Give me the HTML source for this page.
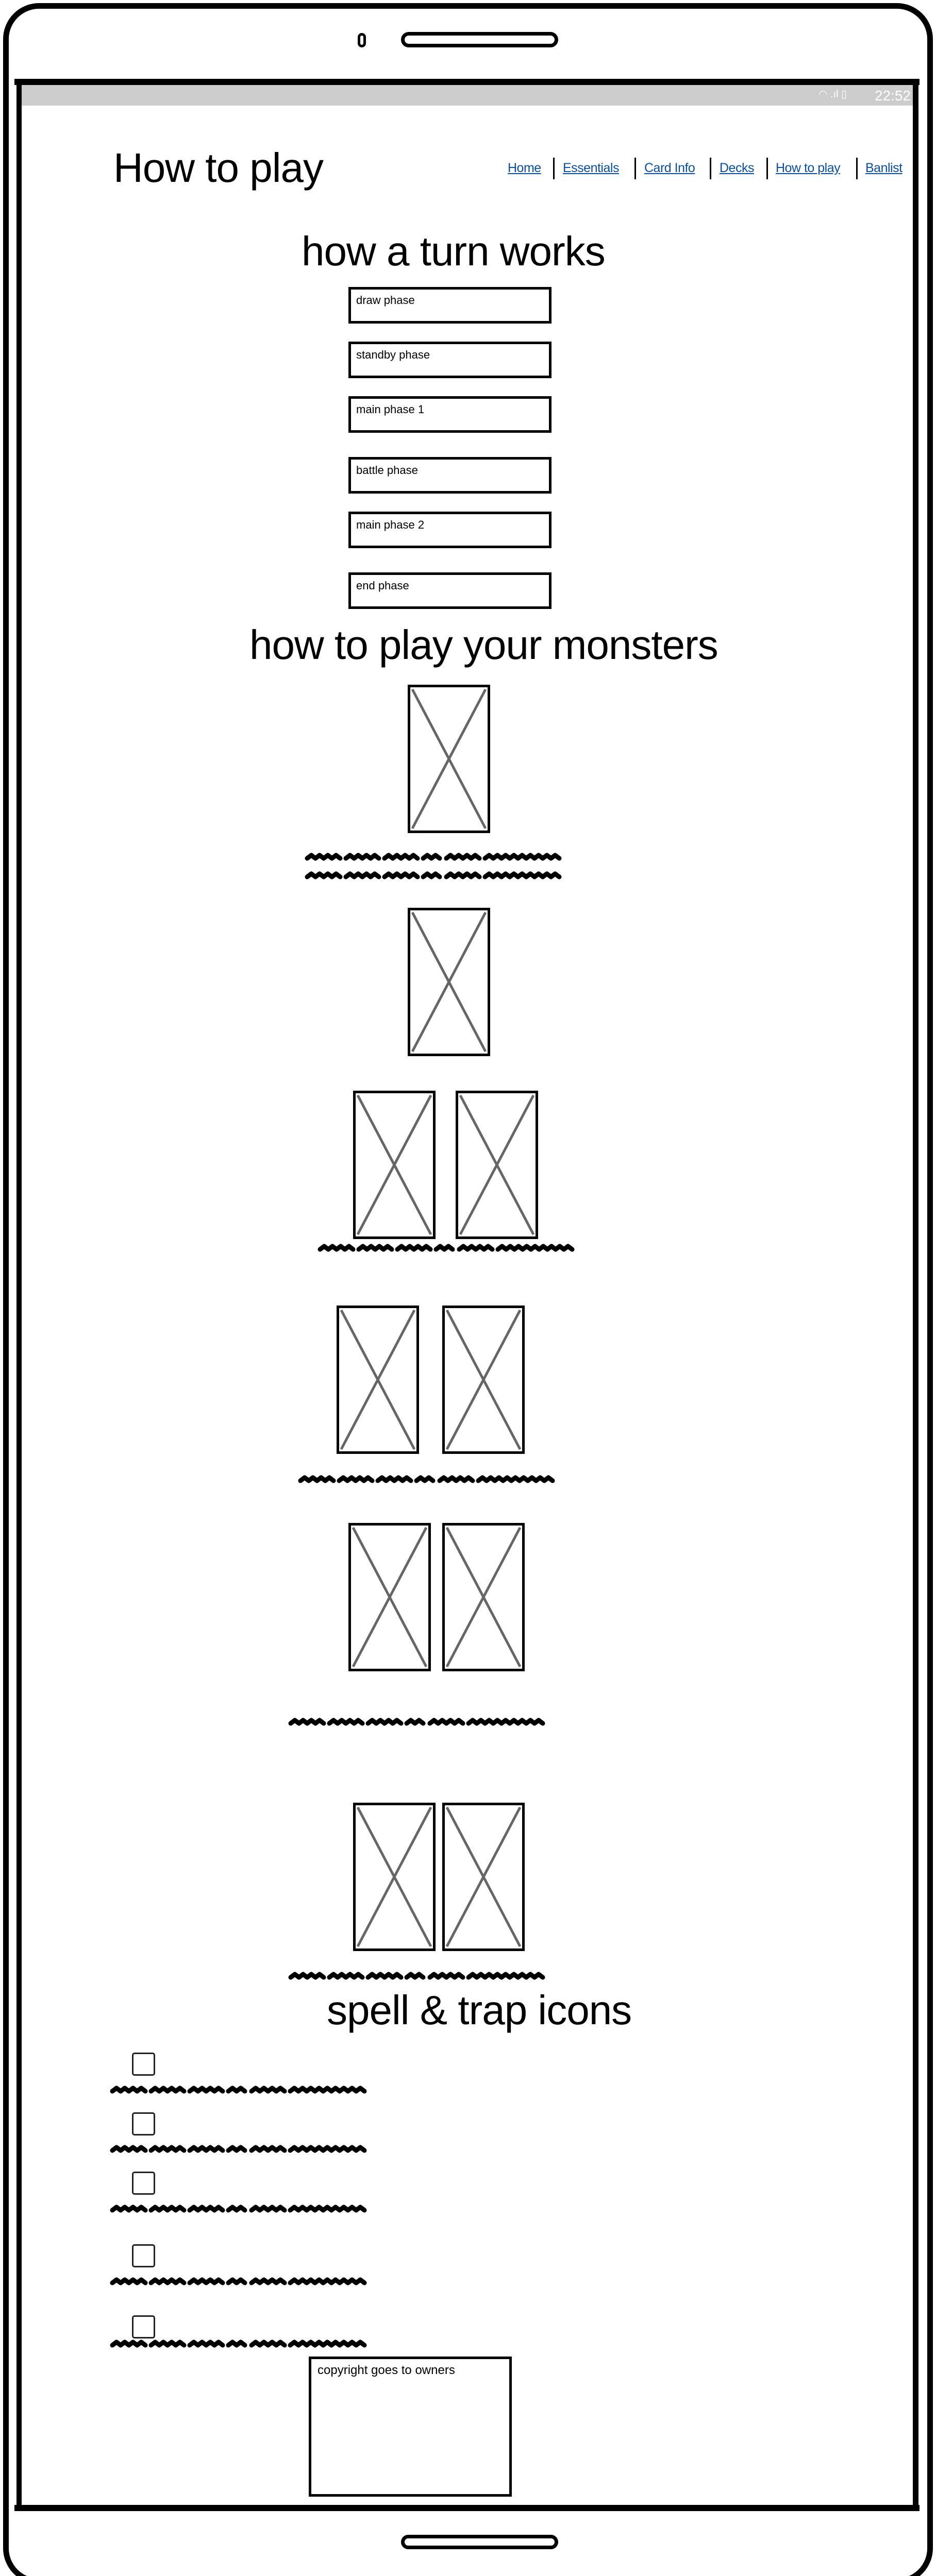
<!DOCTYPE html>
<html><head><meta charset="utf-8"><style>
*{margin:0;padding:0;box-sizing:border-box}
html{width:1816px;height:5028px;overflow:hidden}
body{width:1816px;height:5028px;background:#fff;position:relative;overflow:hidden;font-family:"Liberation Sans Narrow","Liberation Sans",sans-serif;color:#000}
.a{position:absolute}
.h{position:absolute;font-size:80px;line-height:1;white-space:nowrap;letter-spacing:-1px}
.nav{position:absolute;top:312px;font-size:25px;color:#0b4fa0;text-decoration:underline;white-space:nowrap;letter-spacing:-0.5px}
.sep{position:absolute;top:306px;width:3px;height:42px;background:#000}
.phase{position:absolute;left:676px;width:394px;height:71px;border:5px solid #000;font-size:22px;padding:8px 10px}
.cb{position:absolute;left:256px;width:45px;height:45px;border:3px solid #222;border-radius:5px}
</style></head><body>
<div class="a" style="left:6px;top:6px;width:1804px;height:5010px;border:11px solid #000;border-radius:70px"></div>
<div class="a" style="left:694px;top:64px;width:16px;height:28px;border:5px solid #000;border-radius:8px"></div>
<div class="a" style="left:778px;top:62px;width:305px;height:30px;border:7px solid #000;border-radius:15px"></div>
<div class="a" style="left:28px;top:153px;width:1756px;height:12px;background:#000"></div>
<div class="a" style="left:32px;top:153px;width:10px;height:4720px;background:#000"></div>
<div class="a" style="left:1771px;top:153px;width:11px;height:4720px;background:#000"></div>
<div class="a" style="left:28px;top:4862px;width:1756px;height:12px;background:#000"></div>
<div class="a" style="left:778px;top:4920px;width:305px;height:28px;border:7px solid #000;border-radius:14px"></div>
<div class="a" style="left:42px;top:165px;width:1729px;height:40px;background:#ccc"></div>
<div class="a" style="left:1588px;top:170px;color:#fff;font-size:20px;font-family:'Liberation Sans',sans-serif">◠ .ıl ▯</div>
<div class="a" style="left:1697px;top:170px;color:#fff;font-size:28px;font-family:'Liberation Sans',sans-serif">22:52</div>

<div class="h" style="left:220px;top:286px">How to play</div>
<a class="nav" style="left:985px">Home</a>
<div class="sep" style="left:1073px"></div>
<a class="nav" style="left:1092px">Essentials</a>
<div class="sep" style="left:1231px"></div>
<a class="nav" style="left:1250px">Card Info</a>
<div class="sep" style="left:1377px"></div>
<a class="nav" style="left:1396px">Decks</a>
<div class="sep" style="left:1487px"></div>
<a class="nav" style="left:1505px">How to play</a>
<div class="sep" style="left:1661px"></div>
<a class="nav" style="left:1679px">Banlist</a>

<div class="h" style="left:585px;top:448px">how a turn works</div>
<div class="phase" style="top:557px">draw phase</div>
<div class="phase" style="top:663px">standby phase</div>
<div class="phase" style="top:769px">main phase 1</div>
<div class="phase" style="top:887px">battle phase</div>
<div class="phase" style="top:993px">main phase 2</div>
<div class="phase" style="top:1111px">end phase</div>

<div class="h" style="left:484px;top:1212px">how to play your monsters</div>
<div class="h" style="left:634px;top:3862px">spell &amp; trap icons</div>

<div class="cb" style="top:3984px"></div>
<div class="cb" style="top:4100px"></div>
<div class="cb" style="top:4215px"></div>
<div class="cb" style="top:4356px"></div>
<div class="cb" style="top:4494px"></div>

<div class="a" style="left:599px;top:4574px;width:394px;height:272px;border:5px solid #000;font-size:24px;padding:8px 12px;font-family:'Liberation Sans',sans-serif">copyright goes to owners</div>

<svg id="sv" class="a" style="left:0;top:0;display:block" width="1816" height="5028"></svg>
<script>
const cards=[[791,1329],[791,1762],[685,2117],[884,2117],[653,2534],[858,2534],[676,2956],[858,2956],[685,3499],[858,3499]];
const scribbles=[[596,1662],[596,1698],[621,2421],[583,2870],[564,3341],[564,3834],[218,4055],[218,4170],[218,4286],[218,4427],[218,4548]];
const words=[65,65,65,35,65,150];
const ns='http://www.w3.org/2000/svg',sv=document.getElementById('sv');
function mk(t,a){const e=document.createElementNS(ns,t);for(const k in a)e.setAttribute(k,a[k]);sv.appendChild(e);return e;}
cards.forEach(c=>{
 const r=mk('rect',{x:c[0]+2.5,y:c[1]+2.5,width:155,height:283,fill:'none',stroke:'#000','stroke-width':5});
 
 
 const l1=mk('line',{x1:c[0]+9,y1:c[1]+9,x2:c[0]+151,y2:c[1]+279,stroke:'#666','stroke-width':5});
 
 
 const l2=mk('line',{x1:c[0]+151,y1:c[1]+9,x2:c[0]+9,y2:c[1]+279,stroke:'#666','stroke-width':5});
 
 
});
scribbles.forEach(s=>{
 let x=s[0];
 words.forEach(w=>{
  let d='M'+x+' '+(s[1]+4);
  for(let i=8;i<=w;i+=8){d+=' L'+(x+i)+' '+(s[1]+((i/8)%2?-2:4));}
  const p=mk('path',{d:d,fill:'none',stroke:'#000','stroke-width':9,'stroke-linecap':'round','stroke-linejoin':'round'});
  
  
  x+=w+10;
 });
});
</script>
</body></html>
